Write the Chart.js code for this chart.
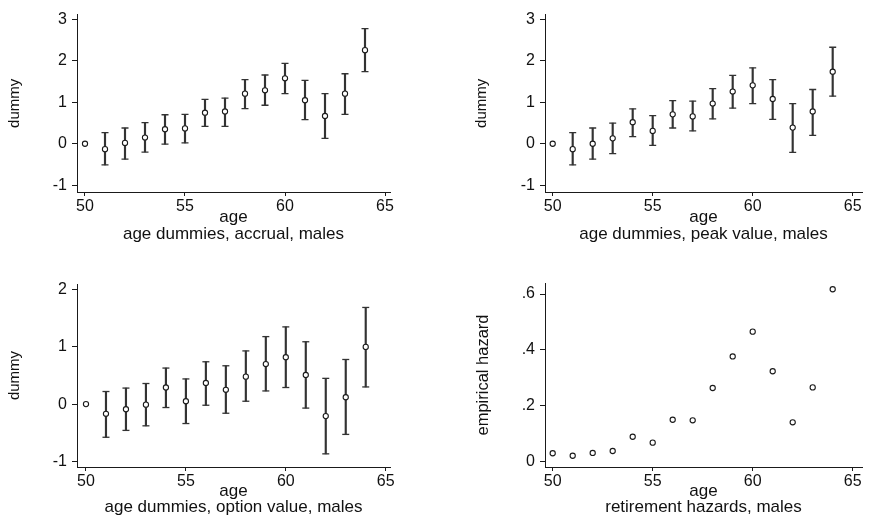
<!DOCTYPE html>
<html><head><meta charset="utf-8">
<script src="https://cdn.jsdelivr.net/npm/chart.js@4.4.1/dist/chart.umd.min.js"></script>
<style>
html,body{margin:0;padding:0;background:#fff;overflow:hidden;width:872px;height:523px;position:relative}
canvas{position:absolute}
</style></head><body>
<canvas id="c1" width="436" height="261" style="left:0;top:0"></canvas>
<canvas id="c2" width="436" height="261" style="left:436px;top:0"></canvas>
<canvas id="c3" width="436" height="262" style="left:0;top:261px"></canvas>
<canvas id="c4" width="436" height="262" style="left:436px;top:261px"></canvas>
<script>
// ---- data ----
const ages = [50,51,52,53,54,55,56,57,58,59,60,61,62,63,64];
const xTicks = [50,55,60,65];
const dummyTicks = [-1,0,1,2,3];
const optionTicks = [-1,0,1,2];
const hazardTicks = [0,0.2,0.4,0.6];

const accrualCoef = [0,-0.13,0.02,0.15,0.35,0.37,0.75,0.78,1.21,1.29,1.58,1.05,0.67,1.21,2.26];
const accrualLow  = [null,-0.51,-0.37,-0.20,-0.01,0.02,0.42,0.42,0.85,0.93,1.21,0.58,0.13,0.71,1.74];
const accrualHigh = [null,0.27,0.38,0.51,0.70,0.71,1.07,1.10,1.55,1.66,1.94,1.53,1.21,1.69,2.78];

const peakCoef = [0,-0.13,0.00,0.13,0.52,0.31,0.71,0.66,0.97,1.26,1.41,1.08,0.39,0.78,1.74];
const peakLow  = [null,-0.51,-0.37,-0.24,0.17,-0.04,0.38,0.31,0.60,0.86,0.97,0.59,-0.21,0.20,1.15];
const peakHigh = [null,0.27,0.38,0.50,0.84,0.68,1.04,1.03,1.33,1.65,1.83,1.55,0.97,1.31,2.33];

const optionCoef = [0,-0.17,-0.09,-0.01,0.29,0.05,0.37,0.25,0.48,0.70,0.82,0.51,-0.21,0.12,1.00];
const optionLow  = [null,-0.58,-0.46,-0.38,-0.06,-0.34,-0.02,-0.16,0.05,0.23,0.29,-0.07,-0.87,-0.53,0.30];
const optionHigh = [null,0.22,0.28,0.36,0.63,0.44,0.74,0.67,0.93,1.18,1.35,1.09,0.45,0.78,1.69];

const hazard = [0.029,0.020,0.030,0.037,0.088,0.067,0.149,0.147,0.263,0.376,0.465,0.323,0.140,0.265,0.617];

const xTitle = 'age';
const subtitles = ['age dummies, accrual, males','age dummies, peak value, males','age dummies, option value, males','retirement hazards, males'];
const yTitles = ['dummy','dummy','dummy','empirical hazard'];

// ---- style ----
Chart.defaults.font.family = '"Liberation Sans", Arial, Helvetica, sans-serif';
Chart.defaults.color = '#111';
const INK = '#1a1a1a';

function makePanel(id, p) {
  const W = p.W, H = p.H, A = p.area;
  const datasets = [{
    type: 'scatter',
    data: ages.map((a, i) => ({x: a, y: p.coef[i]})),
    pointStyle: 'circle', pointRadius: 2.6, pointBorderWidth: 1.1,
    pointBorderColor: INK, pointBackgroundColor: '#fff', showLine: false
  }];
  if (p.low) {
    const idx = ages.map((a, i) => i).filter(i => p.low[i] !== null);
    datasets.push({
      type: 'scatter',
      data: idx.map(i => ({x: ages[i], y: p.low[i]})).concat(idx.map(i => ({x: ages[i], y: p.high[i]}))),
      pointStyle: 'line', pointRadius: 3.5, pointBorderWidth: 1.3, pointBorderColor: '#333', showLine: false
    });
    datasets.push({
      type: 'bar',
      data: idx.map(i => ({x: ages[i], y: [p.low[i], p.high[i]]})),
      barThickness: 1.5, backgroundColor: '#333', borderWidth: 0
    });
  }
  const titleLH = 16.5;
  const xBottom = p.subCenter + titleLH / 2;
  new Chart(document.getElementById(id), {
    type: 'scatter',
    data: {datasets},
    options: {
      responsive: false, animation: false,
      layout: {padding: {left: 0, top: A.t, right: W - A.r, bottom: H - xBottom}},
      plugins: {legend: {display: false}, tooltip: {enabled: false}},
      scales: {
        x: {
          type: 'linear', position: 'bottom', min: p.xMin, max: p.xMax, offset: false,
          afterBuildTicks: s => { s.ticks = xTicks.map(v => ({value: v})); },
          afterFit: s => { s.height = xBottom - A.b; },
          grid: {display: true, offset: false, drawOnChartArea: false, drawTicks: true, tickLength: 4, color: INK},
          border: {display: true, color: INK, width: 1},
          ticks: {font: {size: 16}, padding: 1, maxRotation: 0, color: '#111'},
          title: {display: true, text: [xTitle, p.sub], font: {size: 17, lineHeight: titleLH / 17}, padding: {top: 0, bottom: 0}, color: '#111'}
        },
        y: {
          type: 'linear', position: 'left', min: p.yMin, max: p.yMax,
          afterBuildTicks: s => { s.ticks = p.yTicks.map(v => ({value: v})); },
          afterFit: s => { s.width = A.l; },
          grid: {display: true, offset: false, drawOnChartArea: false, drawTicks: true, tickLength: 5, color: INK},
          border: {display: true, color: INK, width: 1},
          ticks: {font: {size: 16}, padding: 5, color: '#111', callback: p.yFmt || (v => String(v))},
          title: {display: true, text: p.yTitle, font: {size: p.yTitleSize, lineHeight: 1.2}, padding: {top: p.yTitleX - p.yTitleSize * 0.6, bottom: 0}, color: '#111'}
        }
      }
    }
  });
}

makePanel('c1', {W: 436, H: 261, area: {l: 77, r: 390, t: 10, b: 192},
  coef: accrualCoef, low: accrualLow, high: accrualHigh,
  xMin: 49.6, xMax: 65.25, yMin: -1.165, yMax: 3.118, yTicks: dummyTicks,
  sub: subtitles[0], subCenter: 234, yTitle: yTitles[0], yTitleSize: 15, yTitleX: 15});

makePanel('c2', {W: 436, H: 261, area: {l: 109, r: 426, t: 10, b: 192},
  coef: peakCoef, low: peakLow, high: peakHigh,
  xMin: 49.615, xMax: 65.465, yMin: -1.165, yMax: 3.118, yTicks: dummyTicks,
  sub: subtitles[1], subCenter: 234, yTitle: yTitles[1], yTitleSize: 15, yTitleX: 46});

makePanel('c3', {W: 436, H: 262, area: {l: 77, r: 390, t: 23, b: 206},
  coef: optionCoef, low: optionLow, high: optionHigh,
  xMin: 49.55, xMax: 65.215, yMin: -1.1, yMax: 2.1, yTicks: optionTicks,
  sub: subtitles[2], subCenter: 246.5, yTitle: yTitles[2], yTitleSize: 15, yTitleX: 15});

makePanel('c4', {W: 436, H: 262, area: {l: 109, r: 426, t: 22, b: 206},
  coef: hazard, low: null, high: null,
  xMin: 49.615, xMax: 65.465, yMin: -0.0204, yMax: 0.6395, yTicks: hazardTicks,
  yFmt: v => (v === 0 ? '0' : '.' + Math.round(v * 10)),
  sub: subtitles[3], subCenter: 246.5, yTitle: yTitles[3], yTitleSize: 16.5, yTitleX: 47});
</script>
</body></html>
